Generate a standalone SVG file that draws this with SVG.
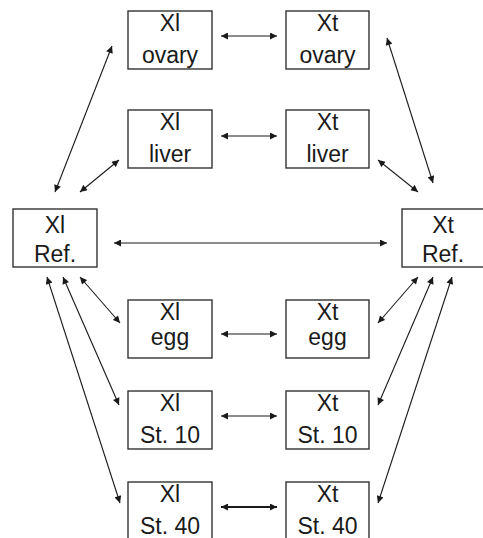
<svg xmlns="http://www.w3.org/2000/svg" width="483" height="538" viewBox="0 0 483 538">
<style>
.box{fill:#fff;stroke:#333;stroke-width:1.4}
.t{font-family:"Liberation Sans",Arial,sans-serif;font-size:23px;fill:#1a1a1a;text-anchor:middle}
.c{stroke:#1a1a1a;stroke-width:1.1;fill:none;marker-start:url(#a);marker-end:url(#a)}
.thick{stroke-width:2}
</style>
<defs>
<marker id="a" viewBox="0 0 10 10" refX="10" refY="5" markerWidth="8" markerHeight="7" markerUnits="userSpaceOnUse" orient="auto-start-reverse">
<path d="M0,0 L10,5 L0,10 z" fill="#1a1a1a"/>
</marker>
</defs>
<rect width="483" height="538" fill="#fff"/>
<g id="connectors">
<line class="c" x1="221" y1="36" x2="277" y2="36"/>
<line class="c" x1="221" y1="136" x2="277" y2="136"/>
<line class="c" x1="114" y1="243" x2="387" y2="243"/>
<line class="c" x1="221" y1="334" x2="277" y2="334"/>
<line class="c" x1="221" y1="416" x2="277" y2="416"/>
<line class="c thick" x1="221" y1="507" x2="277" y2="507"/>
<line class="c" x1="55" y1="192" x2="112" y2="46"/>
<line class="c" x1="80" y1="192" x2="119" y2="160"/>
<line class="c" x1="387" y1="38" x2="433" y2="183"/>
<line class="c" x1="378" y1="160" x2="418" y2="192"/>
<line class="c" x1="80" y1="277" x2="120" y2="323"/>
<line class="c" x1="63" y1="277" x2="119" y2="405"/>
<line class="c" x1="47" y1="277" x2="120" y2="503"/>
<line class="c" x1="418" y1="277" x2="378" y2="323"/>
<line class="c" x1="433" y1="277" x2="378" y2="405"/>
<line class="c" x1="452" y1="277" x2="378" y2="503"/>
</g>
<g id="xl-ovary"><rect class="box" x="128" y="11" width="84" height="58"/><text class="t" x="170" y="31">Xl</text><text class="t" x="170" y="63">ovary</text></g>
<g id="xt-ovary"><rect class="box" x="286" y="11" width="83" height="58"/><text class="t" x="327.5" y="31">Xt</text><text class="t" x="327.5" y="63">ovary</text></g>
<g id="xl-liver"><rect class="box" x="128" y="110" width="84" height="58"/><text class="t" x="170" y="130">Xl</text><text class="t" x="170" y="162">liver</text></g>
<g id="xt-liver"><rect class="box" x="286" y="110" width="83" height="58"/><text class="t" x="327.5" y="130">Xt</text><text class="t" x="327.5" y="162">liver</text></g>
<g id="xl-ref"><rect class="box" x="13" y="209" width="84" height="58"/><text class="t" x="55" y="233">Xl</text><text class="t" x="55" y="262">Ref.</text></g>
<g id="xt-ref"><rect class="box" x="402" y="209" width="84" height="58"/><text class="t" x="443" y="233">Xt</text><text class="t" x="443" y="262">Ref.</text></g>
<g id="xl-egg"><rect class="box" x="128" y="300" width="84" height="58"/><text class="t" x="170" y="320">Xl</text><text class="t" x="170" y="345">egg</text></g>
<g id="xt-egg"><rect class="box" x="286" y="300" width="83" height="58"/><text class="t" x="327.5" y="320">Xt</text><text class="t" x="327.5" y="345">egg</text></g>
<g id="xl-st10"><rect class="box" x="128" y="391" width="84" height="58"/><text class="t" x="170" y="411">Xl</text><text class="t" x="170" y="443">St. 10</text></g>
<g id="xt-st10"><rect class="box" x="286" y="391" width="83" height="58"/><text class="t" x="327.5" y="411">Xt</text><text class="t" x="327.5" y="443">St. 10</text></g>
<g id="xl-st40"><rect class="box" x="128" y="482" width="84" height="58"/><text class="t" x="170" y="502">Xl</text><text class="t" x="170" y="534">St. 40</text></g>
<g id="xt-st40"><rect class="box" x="286" y="482" width="83" height="58"/><text class="t" x="327.5" y="502">Xt</text><text class="t" x="327.5" y="534">St. 40</text></g>
</svg>
